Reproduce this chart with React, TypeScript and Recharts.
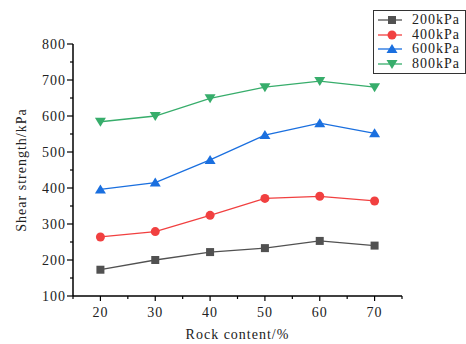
import { LineChart, Line, XAxis, YAxis, Legend } from "recharts";

const rockContent = [20, 30, 40, 50, 60, 70];
const s200 = [173, 200, 222, 233, 253, 240];
const s400 = [264, 279, 324, 371, 377, 364];
const s600 = [396, 415, 478, 547, 580, 552];
const s800 = [584, 600, 649, 680, 697, 680];

const xTicks = [15, 20, 25, 30, 35, 40, 45, 50, 55, 60, 65, 70, 75];
const yTicks = [100, 150, 200, 250, 300, 350, 400, 450, 500, 550, 600, 650, 700, 750, 800];

const FONT = "'Liberation Serif', 'Times New Roman', serif";

const SERIES = [
    { key: "p200", name: "200kPa", color: "#515151", shape: "square" },
    { key: "p400", name: "400kPa", color: "#F14040", shape: "circle" },
    { key: "p600", name: "600kPa", color: "#1A6FDF", shape: "up" },
    { key: "p800", name: "800kPa", color: "#37AD6B", shape: "down" },
];

const data = rockContent.map((rc, i) => ({
    rc,
    p200: s200[i],
    p400: s400[i],
    p600: s600[i],
    p800: s800[i],
}));

const Marker = ({ cx, cy, color, shape }: any) => {
    if (cx == null || cy == null) return null;
    if (shape === "square")
        return <rect x={cx - 4} y={cy - 4} width={8} height={8} fill={color} />;
    if (shape === "circle") return <circle cx={cx} cy={cy} r={4.5} fill={color} />;
    if (shape === "up")
        return <polygon points={`${cx},${cy - 5} ${cx - 5.5},${cy + 4} ${cx + 5.5},${cy + 4}`} fill={color} />;
    return <polygon points={`${cx},${cy + 5} ${cx - 5.5},${cy - 4} ${cx + 5.5},${cy - 4}`} fill={color} />;
};

// major ticks get a label, minor ones only a short line
const XTick = ({ x, y, payload }: any) => {
    const major = payload.value % 10 === 0;
    return (
        <g>
            <line x1={x} x2={x} y1={y} y2={y + (major ? 5 : 3)} stroke="#000" strokeWidth={1.2} />
            {major && (
                <text x={x} y={y + 21} textAnchor="middle" fontSize={14} letterSpacing={1} fontFamily={FONT} fill="#222">
                    {payload.value}
                </text>
            )}
        </g>
    );
};

const YTick = ({ x, y, payload }: any) => {
    const major = payload.value % 100 === 0;
    return (
        <g>
            <line x1={x} x2={x - (major ? 6 : 3)} y1={y} y2={y} stroke="#000" strokeWidth={1.2} />
            {major && (
                <text x={x - 7} y={y + 5} textAnchor="end" fontSize={14} letterSpacing={1} fontFamily={FONT} fill="#222">
                    {payload.value}
                </text>
            )}
        </g>
    );
};

const LegendBox = () => (
    <div
        style={{
            border: "1px solid #333",
            background: "#fff",
            width: 91,
            padding: "2px 0",
            fontFamily: FONT,
            fontSize: 14,
            letterSpacing: 1,
            color: "#222",
            boxSizing: "content-box",
        }}
    >
        {SERIES.map((s) => (
            <div key={s.key} style={{ display: "flex", alignItems: "center", height: 14.5 }}>
                <svg width={38} height={12}>
                    <line x1={4} x2={28} y1={6} y2={6} stroke={s.color} strokeWidth={1.3} />
                    <Marker cx={18} cy={6} color={s.color} shape={s.shape} />
                </svg>
                <span>{s.name}</span>
            </div>
        ))}
    </div>
);

const App = () => {
    return (
        <div style={{ position: "absolute", left: 0, top: 0, width: 466, height: 344, background: "#fff" }}>
            <LineChart width={466} height={344} data={data} margin={{ top: 44, right: 64, bottom: 0, left: 0 }}>
                <XAxis
                    dataKey="rc"
                    type="number"
                    domain={[15, 75]}
                    ticks={xTicks}
                    interval={0}
                    height={48}
                    stroke="#000"
                    strokeWidth={1.5}
                    tickSize={0}
                    tickMargin={0}
                    tickLine={false}
                    tick={<XTick />}
                    label={{
                        value: "Rock content/%",
                        position: "insideBottom",
                        offset: 5,
                        style: { fontFamily: FONT, fontSize: 14, letterSpacing: 1, fill: "#222" },
                    }}
                />
                <YAxis
                    type="number"
                    domain={[100, 800]}
                    ticks={yTicks}
                    interval={0}
                    width={73}
                    stroke="#000"
                    strokeWidth={1.5}
                    tickSize={0}
                    tickMargin={0}
                    tickLine={false}
                    tick={<YTick />}
                    label={{
                        value: "Shear strength/kPa",
                        angle: -90,
                        position: "insideLeft",
                        offset: 21,
                        style: { textAnchor: "middle", fontFamily: FONT, fontSize: 14, letterSpacing: 1, fill: "#222" },
                    }}
                />
                <Legend
                    layout="vertical"
                    verticalAlign="middle"
                    align="center"
                    wrapperStyle={{ top: 10, left: 373, width: 93 }}
                    content={<LegendBox />}
                />
                {SERIES.map((s) => (
                    <Line
                        key={s.key}
                        dataKey={s.key}
                        name={s.name}
                        stroke={s.color}
                        strokeWidth={1.3}
                        isAnimationActive={false}
                        dot={(p: any) => <Marker key={`${s.key}-${p.index}`} cx={p.cx} cy={p.cy} color={s.color} shape={s.shape} />}
                        activeDot={false}
                    />
                ))}
            </LineChart>
        </div>
    );
};

export default App;
